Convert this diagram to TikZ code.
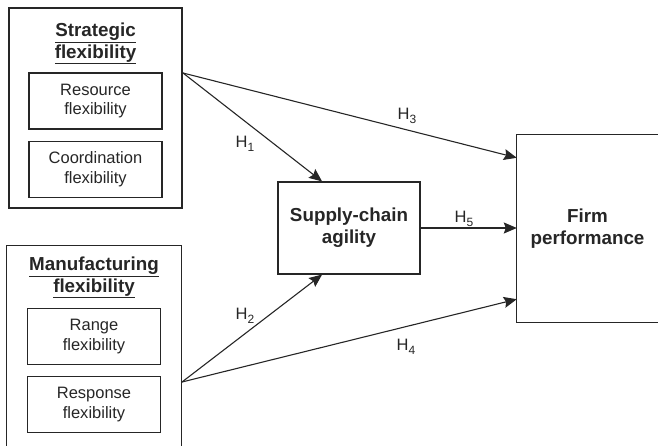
\documentclass[tikz,border=0pt]{standalone}
\usepackage{fontspec}
\setmainfont{Liberation Sans}
\usetikzlibrary{arrows.meta,positioning}
\newcommand\boxtext{\fontsize{16.5}{19.3}\selectfont}
\newcommand\headtext{\fontsize{18.8}{21.7}\selectfont\bfseries}
\newcommand\hsub[1]{H\raisebox{-3.5pt}{\fontsize{12}{12}\selectfont #1}}

\begin{document}
\begin{tikzpicture}[
    x=1pt, y=-1pt,
    node distance=11pt,
    every node/.style={text=black!85},
    plainbox/.style={rectangle, draw=black!85, line width=1.1pt, inner sep=0pt},
    dimbox/.style={plainbox, minimum width=133pt, minimum height=56pt, align=center, font=\boxtext},
    head/.style={align=center, font=\headtext, inner sep=0pt},
    hyp/.style={font=\boxtext, inner sep=0pt},
    link/.style={-{Stealth[length=13pt,width=11pt,inset=2pt]}, line width=1.1pt, draw=black!85}
]
\useasboundingbox (0,0) rectangle (658,446);

% Strategic flexibility (upper left)
\node[plainbox, minimum width=173pt, minimum height=200pt] (strat) at (95.5,108) {};
\node[head] (strathead) at (95.5,43.5) {\underline{Strategic}\\\underline{flexibility}};
\node[dimbox] (resource) at (95.5,101) {Resource\\flexibility};
\node[dimbox, below=of resource] (coord) {Coordination\\flexibility};

% Manufacturing flexibility (lower left, open at the bottom)
\node[inner sep=0pt, minimum width=174pt, minimum height=200pt] (manuf) at (94,346) {};
\draw[line width=1.1pt, black!85] (manuf.south west) -- (manuf.north west) -- (manuf.north east) -- (manuf.south east);
\node[head] (manufhead) at (94,277.5) {\underline{Manufacturing}\\\underline{flexibility}};
\node[dimbox] (range) at (94,336.5) {Range\\flexibility};
\node[dimbox, below=of range] (response) {Response\\flexibility};

% Mediator and outcome
\node[plainbox, minimum width=142pt, minimum height=92pt, align=center, font=\headtext] (agility) at (349,228) {Supply-chain\\agility};
\node[inner sep=0pt, minimum width=141pt, minimum height=187pt, align=center, font=\headtext] (firm) at (587.5,228.5) {Firm\\performance};
\draw[line width=1.1pt, black!85] (firm.north east) -- (firm.north west) -- (firm.south west) -- (firm.south east);

% Hypothesised paths
\coordinate (stratout) at (183,73);
\coordinate (manufout) at (182,382);
\draw[link] (stratout) -- (agility.120);
\draw[link] (manufout) -- (agility.240);
\draw[link] (stratout) -- (firm.135);
\draw[link] (manufout) -- (firm.225);
\draw[link] (agility.east) -- (agility.east -| firm.west);

\node[hyp] (h1) at (245,144) {\hsub{1}};
\node[hyp] (h2) at (245,316) {\hsub{2}};
\node[hyp] (h3) at (407,116) {\hsub{3}};
\node[hyp] (h4) at (406,347) {\hsub{4}};
\node[hyp] (h5) at (464,219) {\hsub{5}};
\end{tikzpicture}
\end{document}
